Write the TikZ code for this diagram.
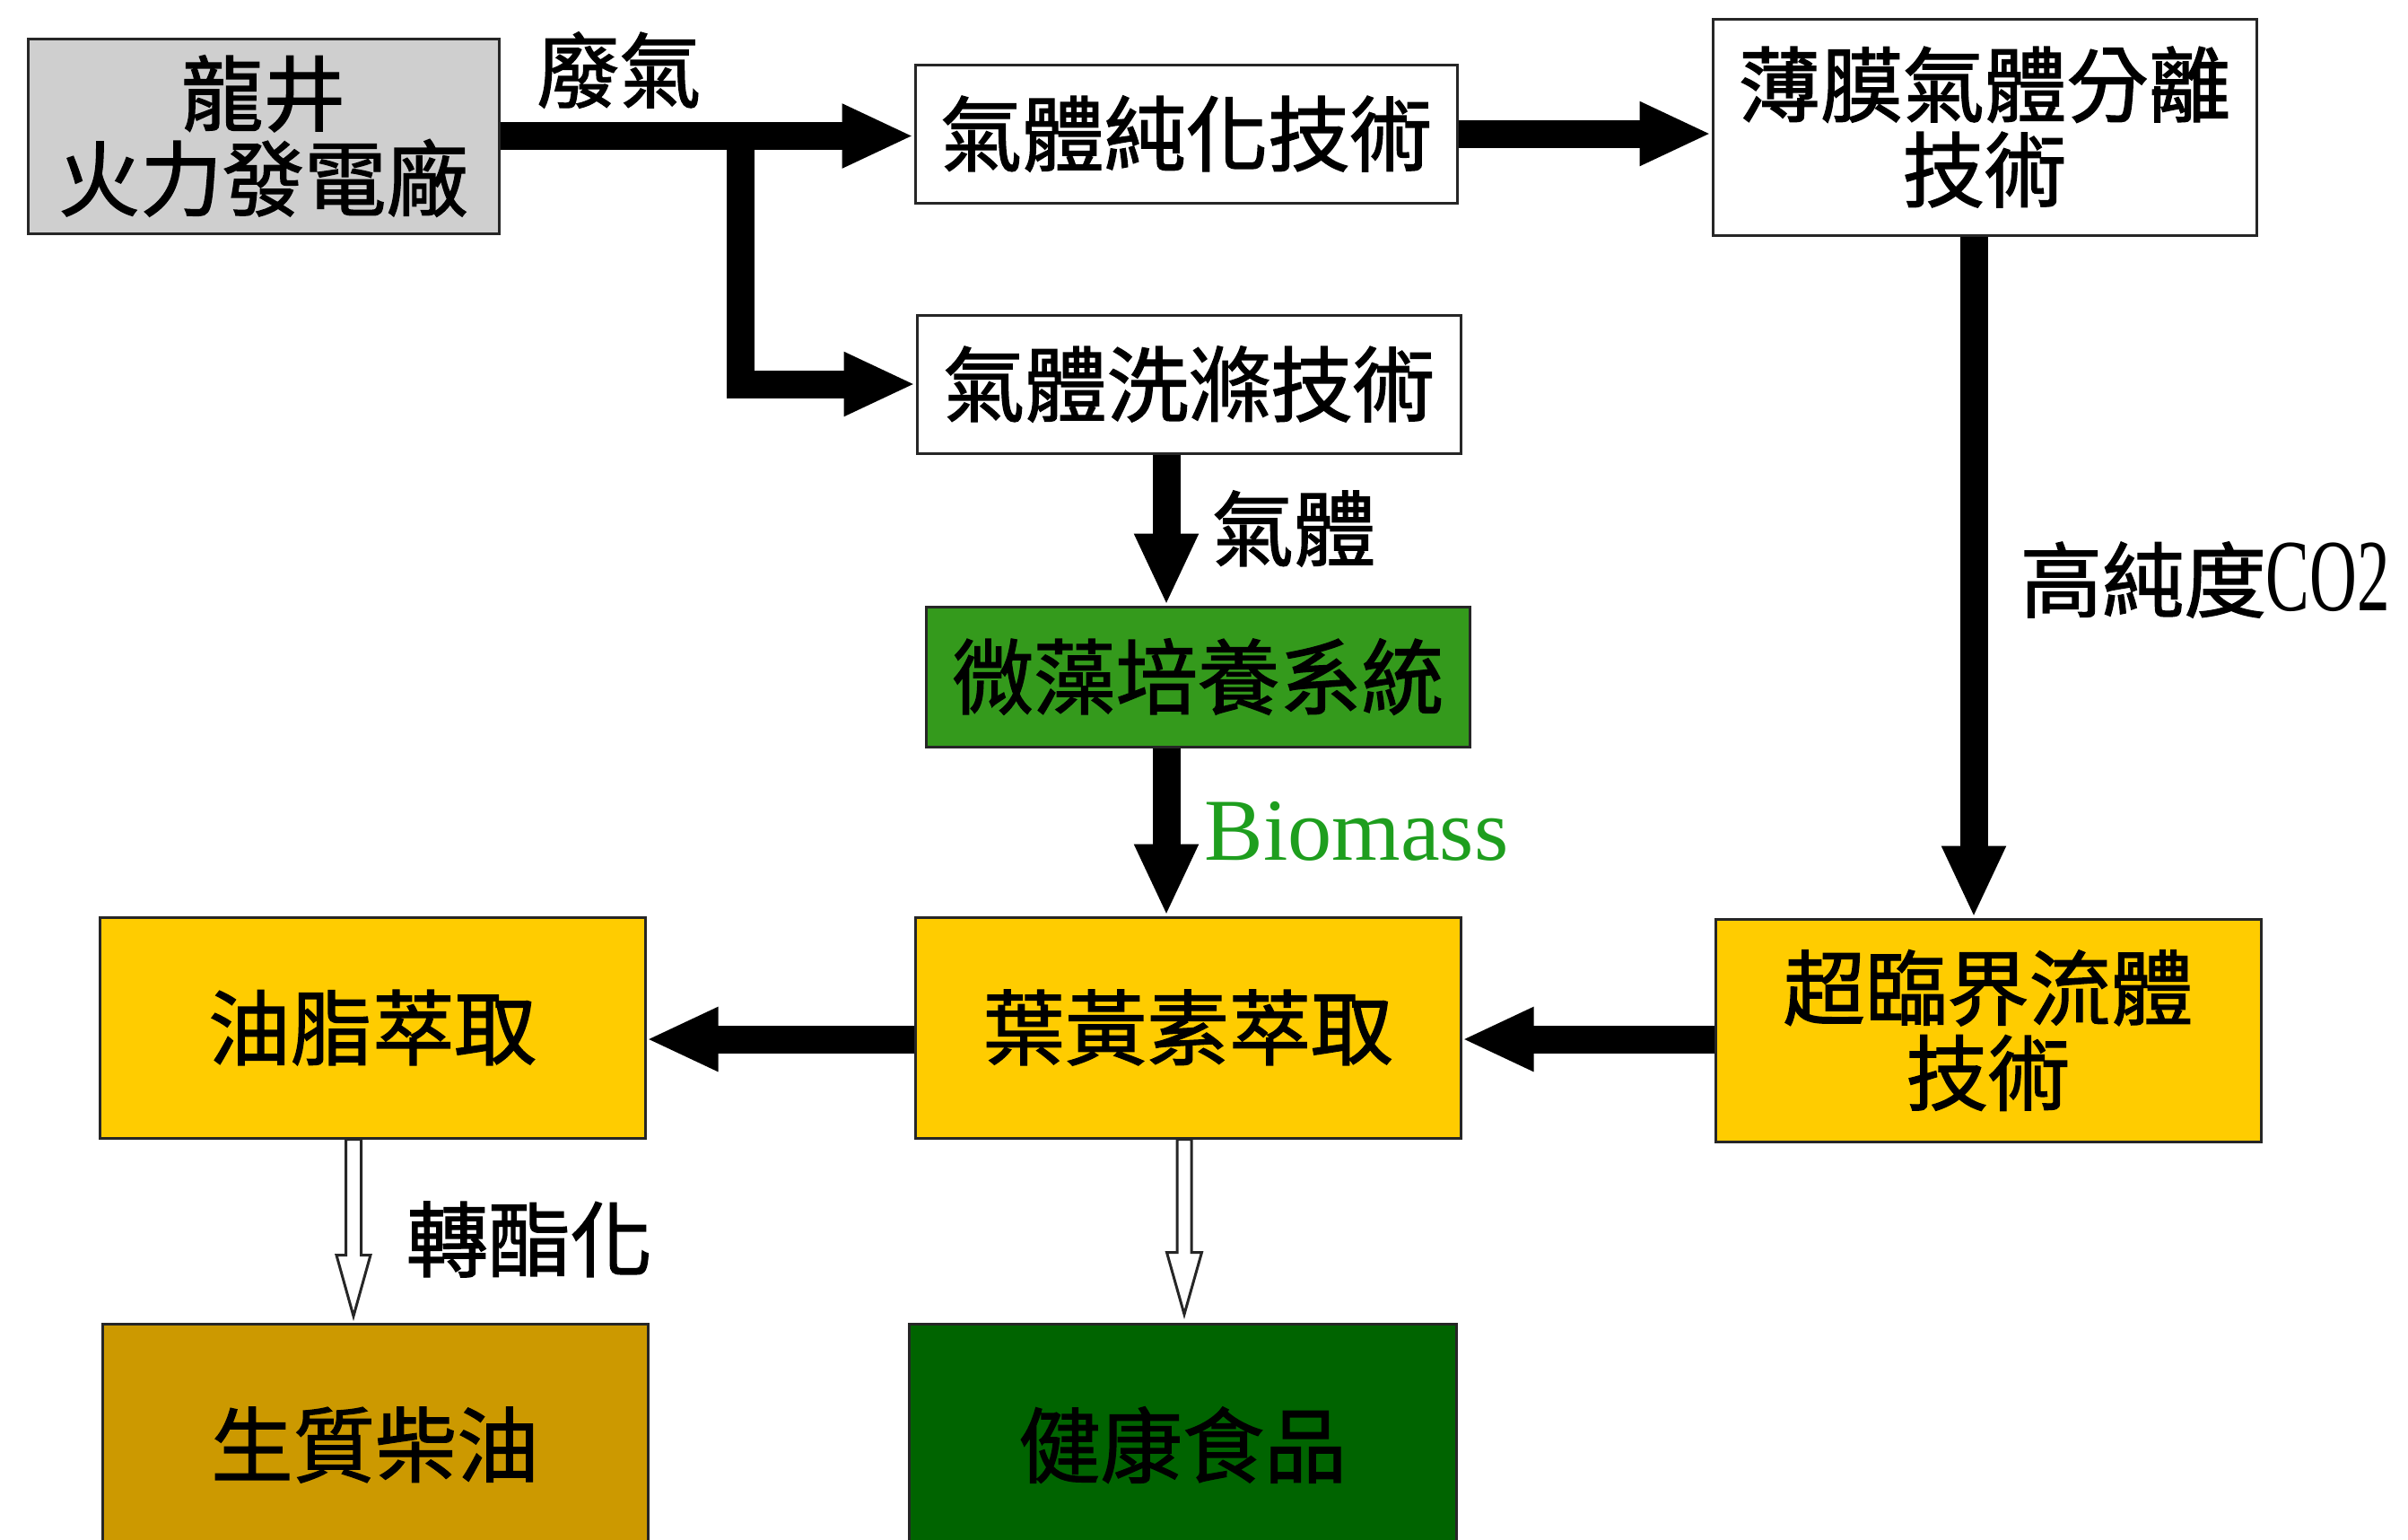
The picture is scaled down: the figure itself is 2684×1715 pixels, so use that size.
\documentclass[tikz,border=0pt]{standalone}
\usepackage{graphicx}
\usepackage{fontspec}
\setmainfont{Liberation Serif}
\newfontfamily\cjk{Noto Sans CJK TC}[FakeBold=1.5]
\usetikzlibrary{arrows.meta,calc}
\definecolor{boxgray}{HTML}{CFCFCF}
\definecolor{boxyellow}{HTML}{FFCC00}
\definecolor{algaegreen}{HTML}{349A1C}
\definecolor{darkgreen}{HTML}{006400}
\definecolor{goldbox}{HTML}{CC9900}
\definecolor{biogreen}{HTML}{1E9E1E}
\begin{document}
\begin{tikzpicture}[x=0.1mm,y=-0.1mm,
  box/.style={draw=black!85, line width=0.3mm, inner sep=0pt, align=center,
    font=\cjk\fontsize{26}{27}\selectfont},
  bigarrow/.style={line width=3.1mm, -{Triangle[length=8mm,width=6.6mm]}},
  hollow/.style={draw=black!85, line width=0.3mm, fill=white, line join=miter},
  lbl/.style={font=\cjk\fontsize{26}{27}\selectfont, inner sep=0pt}]
\fill[white] (0,0) rectangle (2684,1715);
\useasboundingbox (0,0) rectangle (2684,1715);

% boxes
\node[box, fill=boxgray, minimum width=52.5mm, minimum height=21.7mm] (plant) at (293.5,151.5) {龍井\\火力發電廠};
\node[box, fill=white, minimum width=60.4mm, minimum height=15.4mm] (pur) at (1322,149) {氣體純化技術};
\node[box, fill=white, minimum width=60.6mm, minimum height=24.1mm] (mem) at (2212,141.5) {薄膜氣體分離\\技術};
\node[box, fill=white, minimum width=60.6mm, minimum height=15.4mm] (wash) at (1325,428) {氣體洗滌技術};
\node[box, fill=algaegreen, minimum width=60.6mm, minimum height=15.6mm] (algae) at (1335,754) {微藻培養系統};
\node[box, fill=boxyellow, minimum width=60.8mm, minimum height=24.6mm] (oil) at (415,1145) {油脂萃取};
\node[box, fill=boxyellow, minimum width=60.8mm, minimum height=24.6mm] (lut) at (1324,1145) {葉黃素萃取};
\node[box, fill=boxyellow, minimum width=60.8mm, minimum height=24.8mm] (sc) at (2216,1148) {超臨界流體\\技術};
\node[box, fill=goldbox, minimum width=60.8mm, minimum height=27mm] (bio) at (418,1610) {生質柴油};
\node[box, fill=darkgreen, minimum width=61mm, minimum height=27mm] (food) at (1318,1610) {健康食品};

% labels
\node[lbl] (waste) at (690,78) {廢氣};
\node[lbl] (gas) at (1442,589) {氣體};
\node[lbl, anchor=west] (hp) at (2251,646) {高純度{\rmfamily\scalebox{0.8}[1.25]{CO2}}};
\node[font=\fontsize{28}{30}\selectfont, text=biogreen, inner sep=0pt] (biom) at (1512,926) {Biomass};
\node[lbl] (trans) at (590,1381) {轉酯化};

% thick arrows
\coordinate (brx) at (825,0);
\coordinate (xa) at (2200,0);
\coordinate (xb) at (1300,0);
\coordinate (yc) at (0,1158);
\draw[bigarrow] (plant.east) -- (plant.east -| pur.west);
\draw[bigarrow, line join=miter] (plant.east -| brx) |- (wash.west);
\draw[bigarrow] (pur.east) -- (pur.east -| mem.west);
\draw[bigarrow] (mem.south -| xa) -- (sc.north -| xa);
\draw[bigarrow] (wash.south -| xb) -- (algae.north -| xb);
\draw[bigarrow] (algae.south -| xb) -- (lut.north -| xb);
\draw[bigarrow] (sc.west |- yc) -- (lut.east |- yc);
\draw[bigarrow] (lut.west |- yc) -- (oil.east |- yc);

% hollow arrows
\coordinate (xh1) at (394,0);
\coordinate (xh2) at (1320,0);
\draw[hollow] (oil.south -| xh1) ++(-8.5,0) -- ++(0,129) -- ++(-10.5,0) -- ++(19,68) -- ++(19,-68) -- ++(-10.5,0) -- ++(0,-129) -- cycle;
\draw[hollow] (lut.south -| xh2) ++(-8,0) -- ++(0,126) -- ++(-11.5,0) -- ++(19.5,69) -- ++(19.5,-69) -- ++(-11.5,0) -- ++(0,-126) -- cycle;
\end{tikzpicture}
\end{document}
